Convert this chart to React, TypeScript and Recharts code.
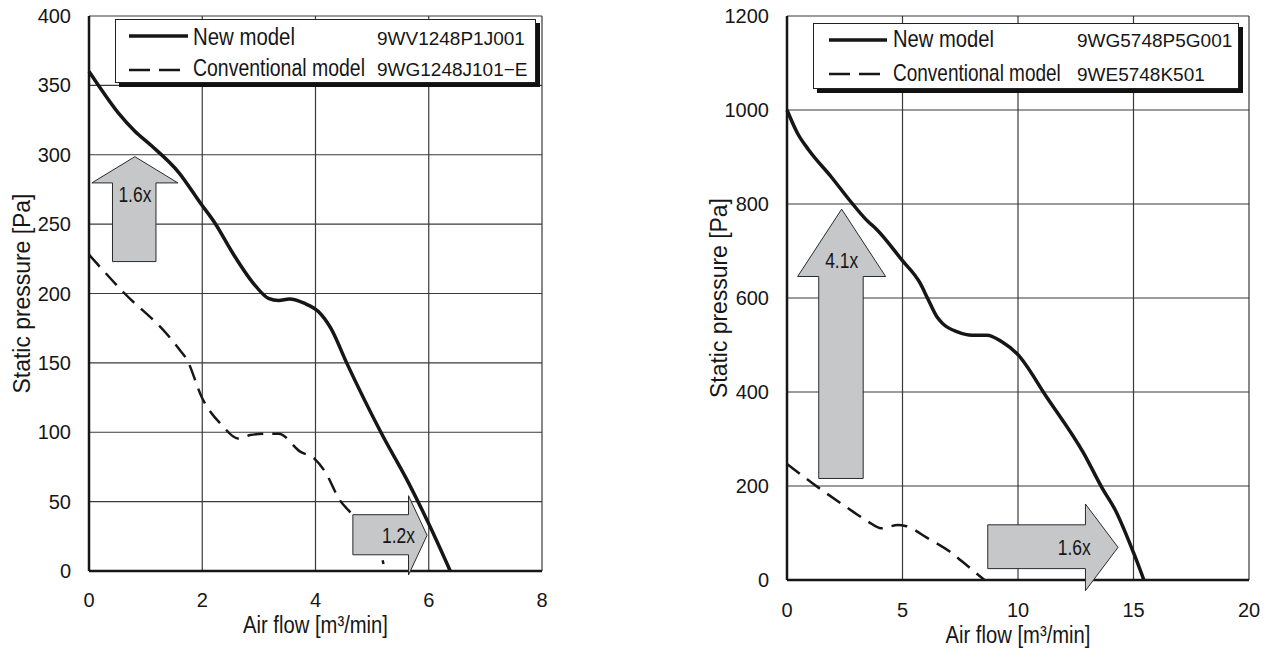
import {
  CartesianGrid,
  Legend,
  Line,
  LineChart,
  ReferenceArea,
  XAxis,
  YAxis,
} from "recharts";

const INK = "#161616";
const GRID = "#3a3a3a";
const ARROW_FILL = "#c6c7c9";
const SANS = "'Liberation Sans', Arial, Helvetica, sans-serif";

const X_TITLE = "Air flow [m³/min]";
const Y_TITLE = "Static pressure [Pa]";
const SERIES_NAMES = ["New model", "Conventional model"];

// 120 mm fan: 9WV1248P1J001 against 9WG1248J101-E
const smallModels = ["9WV1248P1J001", "9WG1248J101−E"];
const smallXTicks = [0, 2, 4, 6, 8];
const smallYTicks = [0, 50, 100, 150, 200, 250, 300, 350, 400];
const smallNewFlow = [0, 0.15, 0.52, 0.81, 1.09, 1.59, 1.97, 2.22, 2.54, 2.91, 3.17, 3.35, 3.54, 3.8, 4.05, 4.27, 4.55, 5.18, 5.65, 6.0, 6.38];
const smallNewPressure = [360, 351, 330, 317, 307, 287, 265, 251, 229, 207, 196.5, 195, 196, 193, 187, 175, 150, 98, 63, 34, 0];
const smallOldFlow = [0, 0.63, 1.37, 1.61, 1.72, 2.0, 2.35, 2.63, 2.85, 3.1, 3.35, 3.73, 3.98, 4.17, 4.43, 4.61, 5.15, 5.2];
const smallOldPressure = [228, 200, 171, 159, 153, 124.5, 105, 95.5, 98, 99, 99, 86, 81, 71.5, 51, 42.5, 13, 5];

// 172 mm fan: 9WG5748P5G001 against 9WE5748K501
const largeModels = ["9WG5748P5G001", "9WE5748K501"];
const largeXTicks = [0, 5, 10, 15, 20];
const largeYTicks = [0, 200, 400, 600, 800, 1000, 1200];
const largeNewFlow = [0, 0.46, 0.94, 1.91, 2.71, 3.52, 3.84, 4.97, 5.77, 6.09, 6.49, 6.73, 7.38, 8.02, 8.66, 9.3, 9.95, 11.23, 12.84, 13.65, 14.21, 15.01, 15.45];
const largeNewPressure = [1000, 950, 915, 858, 808, 762, 748, 681, 631, 599, 560, 546, 528, 521, 521, 507, 482, 390, 270, 195, 149, 57, 0];
const largeOldFlow = [0, 1.1, 2.87, 3.52, 4.08, 4.8, 5.13, 6.09, 7.06, 7.86, 8.55];
const largeOldPressure = [247, 206, 145, 124, 110, 117, 115, 89, 60, 28, 0];

// improvement arrows, extents in data units
interface ArrowSpec {
  dir: "up" | "right";
  label: string;
  x1: number;
  x2: number;
  y1: number;
  y2: number;
  tx: number;
  ty: number;
}

const smallArrows: ArrowSpec[] = [
  { dir: "up", label: "1.6x", x1: 0.05, x2: 1.57, y1: 223, y2: 298.6, tx: 0.5, ty: 0.36 },
  { dir: "right", label: "1.2x", x1: 4.66, x2: 5.97, y1: -2.9, y2: 54.3, tx: 0.615, ty: 0.5 },
];
const largeArrows: ArrowSpec[] = [
  { dir: "up", label: "4.1x", x1: 0.46, x2: 4.27, y1: 216, y2: 789, tx: 0.5, ty: 0.19 },
  { dir: "right", label: "1.6x", x1: 8.69, x2: 14.33, y1: -22.8, y2: 161.7, tx: 0.664, ty: 0.5 },
];

const toPoints = (flow: number[], pressure: number[]) =>
  flow.map((f, i) => ({ flow: f, pressure: pressure[i] }));

let measureCtx: CanvasRenderingContext2D | null = null;
function textWidth(s: string, size: number) {
  if (!measureCtx) measureCtx = document.createElement("canvas").getContext("2d");
  if (!measureCtx) return s.length * size * 0.55;
  measureCtx.font = `${size}px ${SANS}`;
  return measureCtx.measureText(s).width;
}

// the source uses a condensed face; squeeze Liberation Sans to the measured width
function Condensed(props: {
  x: number;
  y: number;
  len: number;
  size: number;
  anchor?: "start" | "middle";
  rotate?: boolean;
  children: string;
}) {
  const { x, y, len, size, anchor = "start", rotate, children } = props;
  const sx = len / textWidth(children, size);
  return (
    <text
      x={0}
      y={0}
      transform={`translate(${x}, ${y})${rotate ? " rotate(-90)" : ""} scale(${sx}, 1)`}
      textAnchor={anchor}
      fontFamily={SANS}
      fontSize={size}
      fill={INK}
    >
      {children}
    </text>
  );
}

function ArrowShape(props: any) {
  const { x, y, width: w, height: h, spec } = props;
  const s0 = 0.24;
  const s1 = 0.745;
  const hd = 0.25;
  let pts: number[][];
  if (spec.dir === "up") {
    const yb = y + h * hd;
    pts = [
      [x + w / 2, y],
      [x + w, yb],
      [x + w * s1, yb],
      [x + w * s1, y + h],
      [x + w * s0, y + h],
      [x + w * s0, yb],
      [x, yb],
    ];
  } else {
    const xb = x + w * (1 - hd);
    pts = [
      [x, y + h * s0],
      [xb, y + h * s0],
      [xb, y],
      [x + w, y + h / 2],
      [xb, y + h],
      [xb, y + h * s1],
      [x, y + h * s1],
    ];
  }
  return (
    <g>
      <polygon
        points={pts.map((p) => p.join(",")).join(" ")}
        fill={ARROW_FILL}
        stroke="#2a2a2a"
        strokeWidth={1}
      />
      <Condensed x={x + w * spec.tx} y={y + h * spec.ty + 8} len={33} size={23} anchor="middle">
        {spec.label}
      </Condensed>
    </g>
  );
}

interface LegendLayout {
  w: number;
  h: number;
  lineX: [number, number];
  rowY: [number, number];
  baseY: [number, number];
  nameX: number;
  nameLen: [number, number];
  modelX: number;
}

function LegendBox({ models, lay }: { models: string[]; lay: LegendLayout }) {
  return (
    <svg width={lay.w + 6} height={lay.h + 6} style={{ display: "block" }}>
      <rect x={4} y={4} width={lay.w} height={lay.h} fill="#111" />
      <rect x={0.5} y={0.5} width={lay.w - 1} height={lay.h - 1} fill="#fff" stroke="#222" strokeWidth={1} />
      {SERIES_NAMES.map((name, i) => (
        <g key={name}>
          <line
            x1={lay.lineX[0]}
            x2={lay.lineX[1]}
            y1={lay.rowY[i]}
            y2={lay.rowY[i]}
            stroke={INK}
            strokeWidth={i === 0 ? 3.5 : 2.5}
            strokeDasharray={i === 0 ? undefined : "21 9"}
          />
          <Condensed x={lay.nameX} y={lay.baseY[i]} len={lay.nameLen[i]} size={23}>
            {name}
          </Condensed>
          <text x={lay.modelX} y={lay.baseY[i]} fontFamily={SANS} fontSize={19} fill={INK}>
            {models[i]}
          </text>
        </g>
      ))}
    </svg>
  );
}

interface PanelProps {
  left: number;
  width: number;
  margin: { top: number; right: number; left: number; bottom: number };
  yAxisWidth: number;
  xAxisHeight: number;
  yTitleX: number;
  xTitleDy: number;
  xTickGap: number;
  xTicks: number[];
  yTicks: number[];
  newData: { flow: number; pressure: number }[];
  oldData: { flow: number; pressure: number }[];
  arrows: ArrowSpec[];
  models: string[];
  legendPos: { left: number; top: number };
  legendLayout: LegendLayout;
}

function FanPanel(p: PanelProps) {
  const tickStyle = { fill: INK, fontSize: 20, fontFamily: SANS };
  return (
    <div style={{ position: "absolute", left: p.left, top: 0 }}>
      <LineChart width={p.width} height={648} margin={p.margin}>
        <CartesianGrid stroke={GRID} strokeWidth={1.2} />
        <XAxis
          type="number"
          dataKey="flow"
          domain={[p.xTicks[0], p.xTicks[p.xTicks.length - 1]]}
          ticks={p.xTicks}
          height={p.xAxisHeight}
          tick={tickStyle}
          tickLine={false}
          tickSize={6}
          tickMargin={p.xTickGap}
          axisLine={{ stroke: INK, strokeWidth: 2.5 }}
          label={(lp: any) => {
            const vb = lp.viewBox;
            return (
              <Condensed x={vb.x + vb.width / 2} y={vb.y + p.xTitleDy} len={145} size={24} anchor="middle">
                {X_TITLE}
              </Condensed>
            );
          }}
        />
        <YAxis
          type="number"
          dataKey="pressure"
          domain={[p.yTicks[0], p.yTicks[p.yTicks.length - 1]]}
          ticks={p.yTicks}
          width={p.yAxisWidth}
          tick={tickStyle}
          tickLine={false}
          tickSize={6}
          tickMargin={12}
          axisLine={{ stroke: INK, strokeWidth: 2.5 }}
          label={(lp: any) => {
            const vb = lp.viewBox;
            return (
              <Condensed x={p.yTitleX} y={vb.y + vb.height / 2} len={200} size={24} anchor="middle" rotate>
                {Y_TITLE}
              </Condensed>
            );
          }}
        />
        <Legend
          layout="vertical"
          align="center"
          verticalAlign="middle"
          wrapperStyle={{ left: p.legendPos.left, top: p.legendPos.top, width: "auto" }}
          content={() => <LegendBox models={p.models} lay={p.legendLayout} />}
        />
        <Line
          name={SERIES_NAMES[1]}
          data={p.oldData}
          dataKey="pressure"
          type="monotone"
          stroke={INK}
          strokeWidth={2.5}
          strokeDasharray="16 9"
          dot={false}
          activeDot={false}
          isAnimationActive={false}
        />
        <Line
          name={SERIES_NAMES[0]}
          data={p.newData}
          dataKey="pressure"
          type="monotone"
          stroke={INK}
          strokeWidth={3.5}
          dot={false}
          activeDot={false}
          isAnimationActive={false}
        />
        {p.arrows.map((a) => (
          <ReferenceArea
            key={a.label + a.dir}
            x1={a.x1}
            x2={a.x2}
            y1={a.y1}
            y2={a.y2}
            ifOverflow="visible"
            {...({ zIndex: 700 } as any)}
            shape={(sp: any) => <ArrowShape {...sp} spec={a} />}
          />
        ))}
      </LineChart>
    </div>
  );
}

export default function App() {
  return (
    <div
      style={{
        position: "absolute",
        left: 0,
        top: 0,
        width: 1272,
        height: 648,
        background: "#fff",
        overflow: "hidden",
      }}
    >
      <FanPanel
        left={0}
        width={560}
        margin={{ top: 16, right: 18, left: 0, bottom: 7 }}
        yAxisWidth={89}
        xAxisHeight={70}
        yTitleX={30}
        xTitleDy={62}
        xTickGap={16}
        xTicks={smallXTicks}
        yTicks={smallYTicks}
        newData={toPoints(smallNewFlow, smallNewPressure)}
        oldData={toPoints(smallOldFlow, smallOldPressure)}
        arrows={smallArrows}
        models={smallModels}
        legendPos={{ left: 115, top: 19 }}
        legendLayout={{
          w: 421,
          h: 64,
          lineX: [14, 73],
          rowY: [17, 51],
          baseY: [26, 57],
          nameX: 78,
          nameLen: [102, 172],
          modelX: 262,
        }}
      />
      <FanPanel
        left={690}
        width={582}
        margin={{ top: 16, right: 23, left: 0, bottom: 8 }}
        yAxisWidth={97}
        xAxisHeight={60}
        yTitleX={37}
        xTitleDy={63}
        xTickGap={17}
        xTicks={largeXTicks}
        yTicks={largeYTicks}
        newData={toPoints(largeNewFlow, largeNewPressure)}
        oldData={toPoints(largeOldFlow, largeOldPressure)}
        arrows={largeArrows}
        models={largeModels}
        legendPos={{ left: 123, top: 23 }}
        legendLayout={{
          w: 426,
          h: 66,
          lineX: [16, 74],
          rowY: [17, 51],
          baseY: [24, 58],
          nameX: 80,
          nameLen: [101, 168],
          modelX: 264,
        }}
      />
    </div>
  );
}
